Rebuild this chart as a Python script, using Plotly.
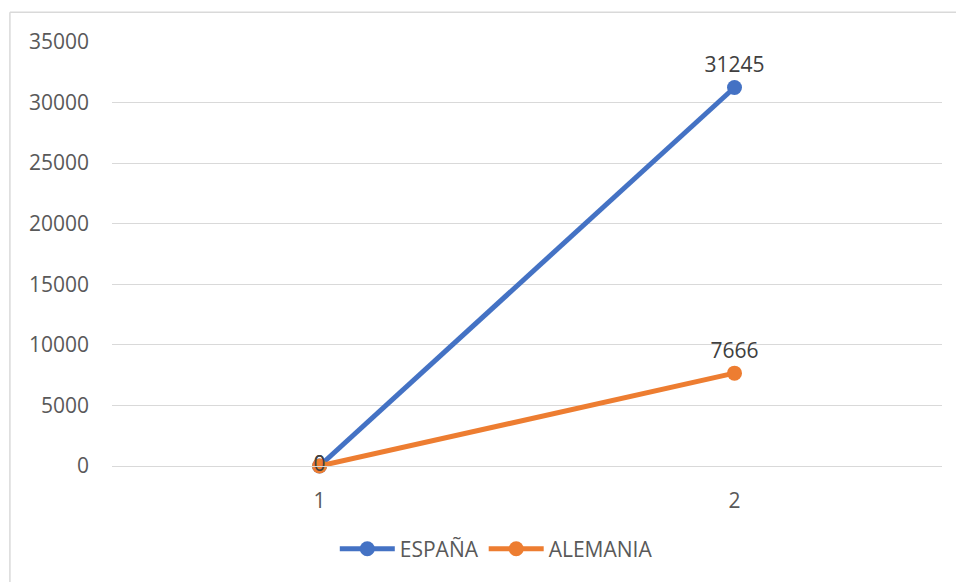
import plotly.graph_objects as go

categories = [1, 2]
espana = [0, 31245]
alemania = [0, 7666]
y_ticks = [0, 5000, 10000, 15000, 20000, 25000, 30000, 35000]

BLUE = "#4472C4"
ORANGE = "#ED7D31"
FONT = "Open Sans"

fig = go.Figure()

def add_series(name, vals, color):
    fig.add_trace(go.Scatter(
        x=categories, y=vals, name=name, mode="lines+markers+text",
        line=dict(color=color, width=5),
        marker=dict(color=color, size=15),
        text=[str(v) for v in vals],
        textposition=["middle center", "top center"],
        textfont=dict(family=FONT, size=21, color="#404040"),
        cliponaxis=False,
    ))

add_series("ESPAÑA", espana, BLUE)
add_series("ALEMANIA", alemania, ORANGE)

fig.update_layout(
    width=956, height=582,
    margin=dict(l=112, r=14, t=42, b=116),
    paper_bgcolor="white", plot_bgcolor="white",
    font=dict(family=FONT, size=21, color="#595959"),
    showlegend=True,
    legend=dict(orientation="h", x=0.463, xanchor="center", y=-0.196, yanchor="middle",
                font=dict(family=FONT, size=21, color="#595959"), itemwidth=55,
                traceorder="normal"),
    shapes=[
        dict(type="line", xref="paper", yref="paper", x0=-0.123, x1=-0.123, y0=1.07, y1=-0.3,
             line=dict(color="#D9D9D9", width=1.5)),
        dict(type="line", xref="paper", yref="paper", x0=-0.123, x1=1.02, y0=1.07, y1=1.07,
             line=dict(color="#D9D9D9", width=1.5)),
    ],
)
fig.update_xaxes(
    range=[0.5, 2.5], tickvals=categories, ticktext=[str(c) for c in categories],
    showgrid=False, zeroline=False, showline=True, linecolor="#D9D9D9", linewidth=1,
    ticks="", ticklabelstandoff=16, fixedrange=True,
)
fig.update_yaxes(
    range=[0, 35000], tickvals=y_ticks, ticktext=[str(t) for t in y_ticks],
    showgrid=True, gridcolor="#D9D9D9", gridwidth=1, zeroline=False, showline=False,
    ticks="", ticklabelstandoff=22, fixedrange=True,
)

fig.write_html("out.html")
